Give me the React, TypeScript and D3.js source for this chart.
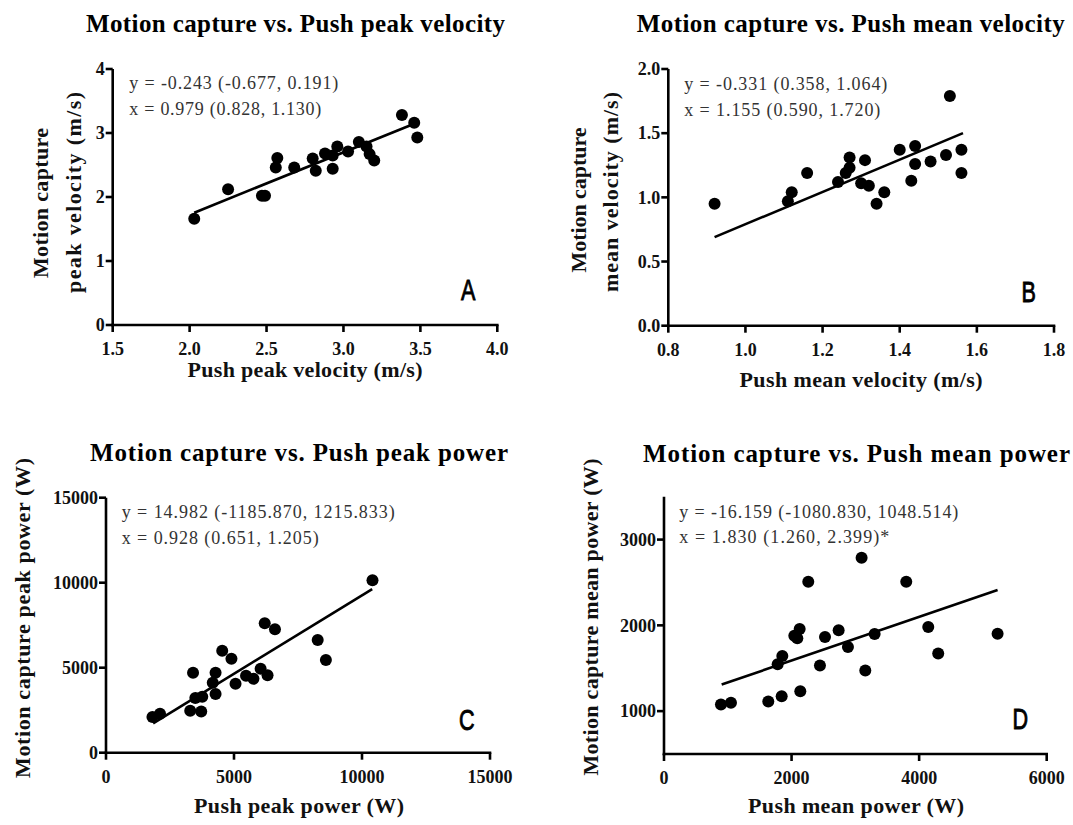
import React from "react";
import * as d3 from "d3";

// ---------- DATA ----------
// Panel A: peak velocity (m/s)
const pushPeakVelocity = [2.03, 2.25, 2.47, 2.49, 2.57, 2.56, 2.68, 2.8, 2.82, 2.88, 2.93, 2.93, 2.96, 3.03, 3.1, 3.15, 3.17, 3.2, 3.38, 3.46, 3.48];
const mocapPeakVelocity = [1.66, 2.12, 2.02, 2.02, 2.61, 2.46, 2.46, 2.6, 2.41, 2.68, 2.65, 2.44, 2.79, 2.71, 2.86, 2.79, 2.67, 2.57, 3.28, 3.16, 2.93];
const fitPeakVelocity = [[2.03, 1.755], [3.44, 3.125]];

// Panel B: mean velocity (m/s)
const pushMeanVelocity = [0.92, 1.11, 1.12, 1.16, 1.24, 1.26, 1.27, 1.27, 1.3, 1.31, 1.32, 1.34, 1.36, 1.4, 1.43, 1.44, 1.44, 1.48, 1.52, 1.53, 1.56, 1.56];
const mocapMeanVelocity = [0.95, 0.97, 1.04, 1.19, 1.12, 1.19, 1.23, 1.31, 1.11, 1.29, 1.09, 0.95, 1.04, 1.37, 1.13, 1.4, 1.26, 1.28, 1.33, 1.79, 1.37, 1.19];
const fitMeanVelocity = [[0.92, 0.69], [1.564, 1.5]];

// Panel C: peak power (W)
const pushPeakPower = [1815, 2110, 3290, 3400, 3490, 3720, 3760, 4170, 4280, 4280, 4540, 4900, 5060, 5470, 5760, 6040, 6200, 6310, 6600, 8270, 8590, 10410];
const mocapPeakPower = [2100, 2290, 2470, 4700, 3220, 2430, 3290, 4120, 4700, 3450, 6000, 5530, 4060, 4530, 4350, 4940, 7610, 4550, 7260, 6630, 5450, 10150];
const fitPeakPower = [[1841, 1728], [10398, 9625]];

// Panel D: mean power (W)
const pushMeanPower = [893, 1050, 1635, 1782, 1845, 1855, 2043, 2090, 2127, 2137, 2262, 2445, 2524, 2738, 2884, 3098, 3156, 3302, 3798, 4143, 4299, 5230];
const mocapMeanPower = [1078, 1097, 1113, 1547, 1174, 1643, 1880, 1849, 1957, 1233, 2508, 1531, 1864, 1942, 1748, 2787, 1473, 1899, 2508, 1980, 1671, 1903];
const fitMeanPower = [[904, 1310], [5230, 2411]];

// Tick values
const ticksAx = [1.5, 2.0, 2.5, 3.0, 3.5, 4.0];
const ticksAy = [0, 1, 2, 3, 4];
const ticksBx = [0.8, 1.0, 1.2, 1.4, 1.6, 1.8];
const ticksBy = [0.0, 0.5, 1.0, 1.5, 2.0];
const ticksCx = [0, 5000, 10000, 15000];
const ticksCy = [0, 5000, 10000, 15000];
const ticksDx = [0, 2000, 4000, 6000];
const ticksDy = [1000, 2000, 3000];

// ---------- STYLE ----------
const SERIF = "'Liberation Serif', 'Times New Roman', serif";
const SANS = "'Liberation Sans', Arial, sans-serif";

type Label = { text: string; x: number; y: number; len?: number };

type PanelCfg = {
  xs: number[];
  ys: number[];
  fit: number[][];
  xDomain: [number, number];
  yDomain: [number, number];
  xRange: [number, number];
  yRange: [number, number];
  xTicks: number[];
  yTicks: number[];
  xFmt: (v: number) => string;
  yFmt: (v: number) => string;
  title: Label & { anchor: "start" | "middle" };
  xLabel: Label;
  yLabels: Label[];
  ann: Label[];
  letter: Label;
};

const f1 = d3.format(".1f");
const f0 = d3.format("d");

const panels: PanelCfg[] = [
  {
    xs: pushPeakVelocity, ys: mocapPeakVelocity, fit: fitPeakVelocity,
    xDomain: [1.5, 4], yDomain: [0, 4], xRange: [112.7, 497.3], yRange: [325, 69],
    xTicks: ticksAx, yTicks: ticksAy, xFmt: f1, yFmt: f0,
    title: { text: "Motion capture vs. Push peak velocity", x: 295.5, y: 32, len: 419, anchor: "middle" },
    xLabel: { text: "Push peak velocity (m/s)", x: 305, y: 377, len: 235 },
    yLabels: [
      { text: "Motion capture", x: 47.5, y: 203, len: 150 },
      { text: "peak velocity (m/s)", x: 81, y: 192.5, len: 201 },
    ],
    ann: [
      { text: "y = -0.243 (-0.677, 0.191)", x: 129.3, y: 89, len: 209 },
      { text: "x = 0.979 (0.828, 1.130)", x: 129.3, y: 115, len: 192 },
    ],
    letter: { text: "A", x: 461, y: 300 },
  },
  {
    xs: pushMeanVelocity, ys: mocapMeanVelocity, fit: fitMeanVelocity,
    xDomain: [0.8, 1.8], yDomain: [0, 2], xRange: [668.3, 1054], yRange: [325.7, 69],
    xTicks: ticksBx, yTicks: ticksBy, xFmt: f1, yFmt: f1,
    title: { text: "Motion capture vs. Push mean velocity", x: 636.7, y: 32, len: 428, anchor: "start" },
    xLabel: { text: "Push mean velocity (m/s)", x: 861, y: 387, len: 243 },
    yLabels: [
      { text: "Motion capture", x: 586, y: 200, len: 145 },
      { text: "mean velocity (m/s)", x: 617.5, y: 192, len: 200 },
    ],
    ann: [
      { text: "y = -0.331 (0.358, 1.064)", x: 684.3, y: 89.5, len: 203 },
      { text: "x = 1.155 (0.590, 1.720)", x: 684.3, y: 116, len: 196 },
    ],
    letter: { text: "B", x: 1021.5, y: 302 },
  },
  {
    xs: pushPeakPower, ys: mocapPeakPower, fit: fitPeakPower,
    xDomain: [0, 15000], yDomain: [0, 15000], xRange: [106, 490], yRange: [752.7, 497.7],
    xTicks: ticksCx, yTicks: ticksCy, xFmt: f0, yFmt: f0,
    title: { text: "Motion capture vs. Push peak power", x: 299, y: 461, len: 418, anchor: "middle" },
    xLabel: { text: "Push peak power (W)", x: 299, y: 813, len: 210 },
    yLabels: [{ text: "Motion capture peak power (W)", x: 29.5, y: 618, len: 320 }],
    ann: [
      { text: "y = 14.982 (-1185.870, 1215.833)", x: 121.7, y: 518, len: 273 },
      { text: "x = 0.928 (0.651, 1.205)", x: 121.7, y: 544, len: 197 },
    ],
    letter: { text: "C", x: 459, y: 730 },
  },
  {
    xs: pushMeanPower, ys: mocapMeanPower, fit: fitMeanPower,
    xDomain: [0, 6000], yDomain: [500, 3500], xRange: [664, 1046.7], yRange: [754, 496.7],
    xTicks: ticksDx, yTicks: ticksDy, xFmt: f0, yFmt: f0,
    title: { text: "Motion capture vs. Push mean power", x: 856.5, y: 462, len: 427, anchor: "middle" },
    xLabel: { text: "Push mean power (W)", x: 856, y: 813, len: 216 },
    yLabels: [{ text: "Motion capture mean power (W)", x: 597.5, y: 617, len: 317 }],
    ann: [
      { text: "y = -16.159 (-1080.830, 1048.514)", x: 679.3, y: 518, len: 279 },
      { text: "x = 1.830 (1.260, 2.399)*", x: 679.3, y: 543, len: 210 },
    ],
    letter: { text: "D", x: 1012.5, y: 729 },
  },
];

function Panel({ cfg }: { cfg: PanelCfg }) {
  const x = d3.scaleLinear().domain(cfg.xDomain).range(cfg.xRange);
  const y = d3.scaleLinear().domain(cfg.yDomain).range(cfg.yRange);
  const x0 = cfg.xRange[0];
  const yBase = cfg.yRange[0];
  const line = d3
    .line<number[]>()
    .x((d) => x(d[0]))
    .y((d) => y(d[1]));
  const pts = cfg.xs.map((v, i) => [v, cfg.ys[i]]);
  const sw = 2.6;
  return (
    <g>
      <text
        x={cfg.title.x}
        y={cfg.title.y}
        textAnchor={cfg.title.anchor}
        fontFamily={SERIF}
        fontWeight="bold"
        fontSize={25}
        textLength={cfg.title.len}
        fill="#000"
      >
        {cfg.title.text}
      </text>
      <line x1={x0} x2={x0} y1={cfg.yRange[1]} y2={yBase + sw / 2} stroke="#000" strokeWidth={sw} />
      <line x1={x0 - sw / 2} x2={cfg.xRange[1] + sw / 2} y1={yBase} y2={yBase} stroke="#000" strokeWidth={sw} />
      {cfg.xTicks.map((t) => (
        <g key={"xt" + t}>
          <line x1={x(t)} x2={x(t)} y1={yBase} y2={yBase + 7} stroke="#000" strokeWidth={sw} />
          <text x={x(t)} y={yBase + 30} textAnchor="middle" fontFamily={SERIF} fontWeight="bold" fontSize={18} fill="#111">
            {cfg.xFmt(t)}
          </text>
        </g>
      ))}
      {cfg.yTicks.map((t) => (
        <g key={"yt" + t}>
          <line x1={x0 - 7} x2={x0} y1={y(t)} y2={y(t)} stroke="#000" strokeWidth={sw} />
          <text x={x0 - 8} y={y(t)} dy="0.35em" textAnchor="end" fontFamily={SERIF} fontWeight="bold" fontSize={18} fill="#111">
            {cfg.yFmt(t)}
          </text>
        </g>
      ))}
      <text
        x={cfg.xLabel.x}
        y={cfg.xLabel.y}
        textAnchor="middle"
        fontFamily={SERIF}
        fontWeight="bold"
        fontSize={22}
        textLength={cfg.xLabel.len}
        fill="#111"
      >
        {cfg.xLabel.text}
      </text>
      {cfg.yLabels.map((l) => (
        <text
          key={l.text}
          transform={`translate(${l.x},${l.y}) rotate(-90)`}
          textAnchor="middle"
          fontFamily={SERIF}
          fontWeight="bold"
          fontSize={22}
          textLength={l.len}
          fill="#111"
        >
          {l.text}
        </text>
      ))}
      {cfg.ann.map((a) => (
        <text key={a.text} x={a.x} y={a.y} fontFamily={SERIF} fontSize={18} textLength={a.len} fill="#333">
          {a.text}
        </text>
      ))}
      <path d={line(cfg.fit) || ""} stroke="#000" strokeWidth={2.6} fill="none" />
      {pts.map((p, i) => (
        <circle key={i} cx={x(p[0])} cy={y(p[1])} r={6} fill="#000" />
      ))}
      <text
        transform={`translate(${cfg.letter.x},${cfg.letter.y}) scale(0.72,1)`}
        fontFamily={SANS}
        fontSize={30}
        fill="#000"
        stroke="#000"
        strokeWidth={0.9}
      >
        {cfg.letter.text}
      </text>
    </g>
  );
}

export default function App() {
  return (
    <svg
      width={1073}
      height={825}
      viewBox="0 0 1073 825"
      style={{ position: "absolute", left: 0, top: 0, background: "#fff", overflow: "hidden" }}
    >
      <rect x={0} y={0} width={1073} height={825} fill="#fff" />
      {panels.map((p, i) => (
        <Panel key={i} cfg={p} />
      ))}
    </svg>
  );
}
